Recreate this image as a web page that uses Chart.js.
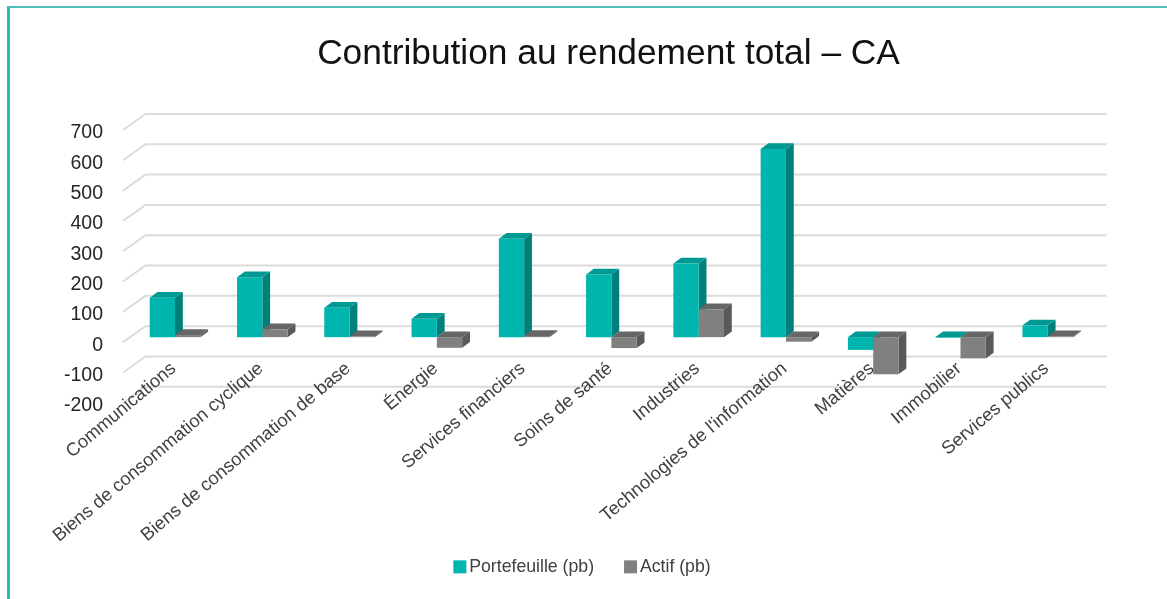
<!DOCTYPE html>
<html lang="fr">
<head>
<meta charset="utf-8">
<style>
html,body{margin:0;padding:0;background:#fff;width:1167px;height:599px;overflow:hidden}
#wrap{position:absolute;left:0;top:0;width:1167px;height:599px}
#c{filter:blur(0.45px)}
#frame{position:absolute;left:7px;top:6px;right:0;bottom:0;border-top:2px solid #55bdb7;border-left:3px solid #27bdb6;pointer-events:none}
</style>
<script src="https://cdn.jsdelivr.net/npm/chart.js@4"></script>
</head>
<body>
<div id="wrap"><canvas id="c" width="1167" height="599"></canvas></div>
<div id="frame"></div>
<script>
const chartTitle = "Contribution au rendement total – CA";
const categories = ["Communications","Biens de consommation cyclique","Biens de consommation de base","Énergie","Services financiers","Soins de santé","Industries","Technologies de l'information","Matières","Immobilier","Services publics"];
const portefeuille = [130,198,97,61,325,207,243,621,-42,-2,39];
const actif = [7,26,3,-35,4,-36,92,-15,-122,-70,3];
const yMin = -200, yMax = 700, yStep = 100;

const BAR_SHIFT = {x:8.4, y:-5};      // bar plane relative to the front of the floor
const BAR_DEPTH = {x:7.8, y:-5.7};    // depth of each bar
const WALL_DEPTH = {x:22.5, y:-16};   // depth of the chart box

const faces = [
  {front:"#00b5ad", top:"#009a93", side:"#007f7b"},
  {front:"#808080", top:"#666666", side:"#595959"}
];

const plot3d = {
  id:"plot3d",
  afterLayout(chart){
    // centre the title and legend where the picture has them
    chart.titleBlock.left = 134;
    chart.titleBlock.right = 1083;
    chart.legend.left = 0;
    chart.legend.right = 1170;
    chart.legend.top = 522;
    chart.legend.bottom = 599;
    chart.scales.x._computeLabelArea = () => null; // rotated labels run over the floor and past the scale box
  },
  beforeDraw(chart){
    const {ctx, scales:{y}, chartArea:a} = chart;
    ctx.save();
    ctx.strokeStyle = "#dcdcdc";
    ctx.lineWidth = 2;
    y.ticks.forEach(t=>{
      const py = y.getPixelForValue(t.value);
      ctx.beginPath();
      ctx.moveTo(a.left, py);
      ctx.lineTo(a.left+WALL_DEPTH.x, py+WALL_DEPTH.y);
      ctx.lineTo(a.right+WALL_DEPTH.x+1, py+WALL_DEPTH.y);
      ctx.stroke();
    });
    ctx.restore();
  },
  beforeDatasetsDraw(chart){
    const {ctx} = chart;
    ctx.save();
    ctx.translate(BAR_SHIFT.x, BAR_SHIFT.y);
    const dx = BAR_DEPTH.x, dy = BAR_DEPTH.y;
    const poly = (c,pts)=>{
      ctx.fillStyle=c; ctx.beginPath();
      pts.forEach((p,i)=> i?ctx.lineTo(p[0],p[1]):ctx.moveTo(p[0],p[1]));
      ctx.closePath(); ctx.fill();
    };
    chart.data.datasets.forEach((ds,di)=>{
      chart.getDatasetMeta(di).data.forEach(b=>{
        const p = b.getProps(["x","y","base","width"],true);
        const l = p.x-p.width/2, r = p.x+p.width/2;
        const t = Math.min(p.y,p.base), bt = Math.max(p.y,p.base);
        poly(faces[di].side,[[r,t],[r+dx,t+dy],[r+dx,bt+dy],[r,bt]]);
        poly(faces[di].top,[[l,t],[l+dx,t+dy],[r+dx,t+dy],[r,t]]);
      });
    });
    ctx.restore();
    ctx.save();
    ctx.translate(BAR_SHIFT.x, BAR_SHIFT.y);
  },
  afterDatasetsDraw(chart){ chart.ctx.restore(); }
};

Chart.defaults.font.family = '"Liberation Sans", Arial, sans-serif';
new Chart(document.getElementById("c"),{
  type:"bar",
  data:{
    labels:categories,
    datasets:[
      {label:"Portefeuille (pb)",data:portefeuille,backgroundColor:faces[0].front,borderWidth:0,clip:false},
      {label:"Actif (pb)",data:actif,backgroundColor:faces[1].front,borderWidth:0,clip:false}
    ]
  },
  options:{
    responsive:false,
    animation:false,
    categoryPercentage:0.58,
    barPercentage:1,
    layout:{padding:{left:0,right:84,top:0,bottom:0}},
    scales:{
      x:{
        grid:{display:false},
        border:{display:false},
        ticks:{
          color:"#404040",
          font:{size:18.4},
          autoSkip:false,
          maxRotation:40,
          minRotation:40,
          padding:-53,
          labelOffset:7
        },
        afterFit(s){ s.height = 132.5; }
      },
      y:{
        min:yMin,max:yMax,
        grid:{display:false},
        border:{display:false},
        ticks:{
          stepSize:yStep,
          color:"#262626",
          font:{size:19.5},
          padding:12,
          labelOffset:3
        },
        afterFit(s){ s.width = 123; }
      }
    },
    plugins:{
      title:{
        display:true,
        text:chartTitle,
        color:"#111111",
        font:{size:35.3,weight:"normal"},
        padding:{top:33,bottom:54.6}
      },
      legend:{
        position:"bottom",
        labels:{
          color:"#404040",
          font:{size:17.7},
          usePointStyle:true,
          pointStyle:"rect",
          boxWidth:1,
          boxHeight:13,
          padding:36
        }
      },
      tooltip:{enabled:false}
    }
  },
  plugins:[plot3d]
});
</script>
</body>
</html>
